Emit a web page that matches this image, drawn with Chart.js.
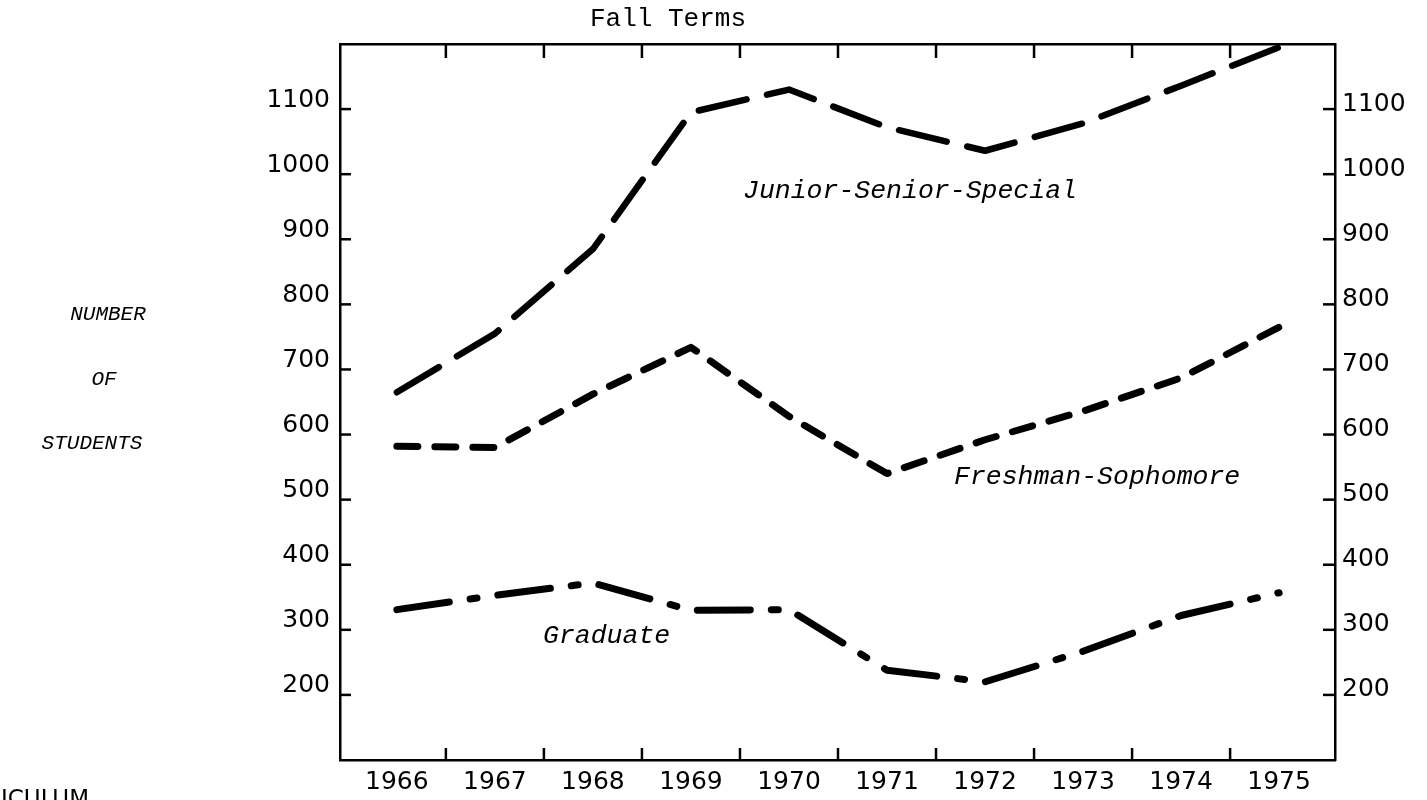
<!DOCTYPE html>
<html>
<head>
<meta charset="utf-8">
<script src="https://cdn.jsdelivr.net/npm/chart.js@4.4.1/dist/chart.umd.min.js"></script>
<style>
  html, body { margin: 0; padding: 0; background: #fff; }
  #wrap { width: 1427px; height: 800px; }
</style>
</head>
<body>
<div id="wrap"><canvas id="c" width="1427" height="800"></canvas></div>
<script>
// ---- data ----
const years = ['1966','1967','1968','1969','1970','1971','1972','1973','1974','1975'];
const juniorSeniorSpecial = [665, 755, 885, 1095, 1130, 1072, 1036, 1078, 1136, 1195];
const freshmanSophomore   = [582, 580, 662, 734, 628, 540, 592, 636, 687, 765];
const graduate            = [331, 353, 372, 330, 331, 238, 220, 267, 322, 357];
const yTickValues = [200, 300, 400, 500, 600, 700, 800, 900, 1000, 1100];
const seriesNames = ['Junior-Senior-Special', 'Freshman-Sophomore', 'Graduate'];

const ink = '#000';
const toPoints = arr => arr.map((v, i) => ({ x: i, y: v }));

const annotations = {
  id: 'annotations',
  afterDraw(chart) {
    const { ctx, chartArea: a, scales } = chart;
    const x = scales.x, yL = scales.y, yR = scales.yR;
    ctx.save();
    ctx.strokeStyle = ink;
    ctx.lineWidth = 2.5;
    const seg = (x1, y1, x2, y2) => { ctx.beginPath(); ctx.moveTo(x1, y1); ctx.lineTo(x2, y2); ctx.stroke(); };
    // inward tick marks
    yTickValues.forEach(v => {
      const pl = yL.getPixelForValue(v);
      seg(a.left, pl, a.left + 11, pl);
      const pr = yR.getPixelForValue(v);
      seg(a.right - 12, pr, a.right, pr);
    });
    for (let i = 0; i < years.length - 1; i++) {
      const px = x.getPixelForValue(i + 0.5);
      seg(px, a.top, px, a.top + 14);
      seg(px, a.bottom, px, a.bottom - 12);
    }
    // texts
    ctx.fillStyle = ink;
    ctx.textBaseline = 'middle';
    ctx.textAlign = 'left';
    ctx.font = '26px "Liberation Mono"';
    ctx.fillText('Fall Terms', 590, 19);
    ctx.font = 'italic 26.5px "Liberation Mono"';
    ctx.fillText(seriesNames[0], 743, 191);
    ctx.fillText(seriesNames[1], 954, 477);
    ctx.fillText(seriesNames[2], 543, 636);
    ctx.font = 'italic 21px "Liberation Mono"';
    ctx.textAlign = 'center';
    ctx.fillText('NUMBER', 108, 314);
    ctx.fillText('OF', 104, 379);
    ctx.fillText('STUDENTS', 92, 443);
    ctx.textAlign = 'left';
    ctx.textBaseline = 'alphabetic';
    ctx.font = '23px "DejaVu Sans"';
    ctx.fillText('ICULUM', 1, 806);
    ctx.restore();
  }
};

const lineStyle = (data, dash, width) => ({
  data: toPoints(data),
  borderColor: ink,
  borderWidth: width,
  borderDash: dash,
  borderCapStyle: 'round',
  borderJoinStyle: 'round',
  pointRadius: 0,
  tension: 0,
  fill: false
});

new Chart(document.getElementById('c'), {
  type: 'line',
  data: {
    datasets: [
      Object.assign(lineStyle(juniorSeniorSpecial, [49, 21], 6.5), { label: seriesNames[0] }),
      Object.assign(lineStyle(freshmanSophomore, [21, 17], 7), { label: seriesNames[1] }),
      Object.assign(lineStyle(graduate, [53, 21, 7, 21], 7), { label: seriesNames[2] })
    ]
  },
  options: {
    responsive: false,
    animation: false,
    layout: { padding: 0 },
    plugins: { legend: { display: false }, title: { display: false }, tooltip: { enabled: false } },
    scales: {
      x: {
        type: 'linear', position: 'bottom', min: -0.58, max: 9.57,
        afterBuildTicks: s => { s.ticks = years.map((_, i) => ({ value: i })); },
        afterFit: s => { s.height = 40; },
        grid: { display: false, drawTicks: false },
        border: { display: true, color: ink, width: 2.5 },
        ticks: { autoSkip: false, maxRotation: 0, padding: 7, color: ink,
          font: { family: 'DejaVu Sans', size: 25 },
          callback: v => years[v] }
      },
      xTop: {
        type: 'linear', position: 'top', min: -0.58, max: 9.57,
        afterFit: s => { s.height = 44; },
        grid: { display: false, drawTicks: false },
        border: { display: true, color: ink, width: 2.5 },
        ticks: { display: false }
      },
      y: {
        type: 'linear', position: 'left', min: 100, max: 1200,
        afterBuildTicks: s => { s.ticks = yTickValues.map(v => ({ value: v })); },
        afterFit: s => { s.width = 340; },
        grid: { display: false, drawTicks: false },
        border: { display: true, color: ink, width: 2.5 },
        ticks: { padding: 10, labelOffset: -9, color: ink,
          font: { family: 'DejaVu Sans', size: 25 },
          callback: v => String(v) }
      },
      yR: {
        type: 'linear', position: 'right', min: 100, max: 1200,
        afterBuildTicks: s => { s.ticks = yTickValues.map(v => ({ value: v })); },
        afterFit: s => { s.width = 92; },
        grid: { display: false, drawTicks: false },
        border: { display: true, color: ink, width: 2.5 },
        ticks: { padding: 7, labelOffset: -5, color: ink,
          font: { family: 'DejaVu Sans', size: 25 },
          callback: v => String(v) }
      }
    }
  },
  plugins: [annotations]
});
</script>
</body>
</html>
